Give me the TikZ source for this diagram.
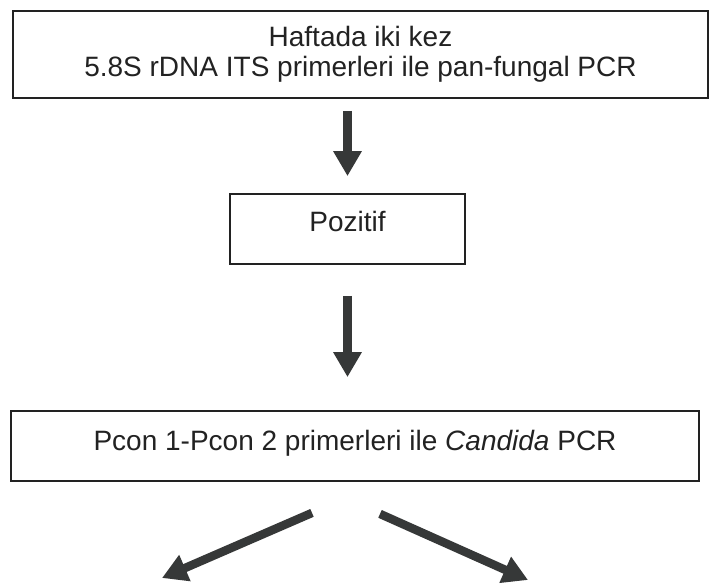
\documentclass[tikz,border=0pt]{standalone}
\usepackage{fontspec}
\setmainfont{Liberation Sans}
\usetikzlibrary{arrows.meta}
\definecolor{ink}{HTML}{222222}
\definecolor{arrowgray}{HTML}{363838}
\begin{document}
\begin{tikzpicture}[x=1pt,y=-1pt,
  box/.style={draw=ink, line width=1.8pt, text=ink, align=center,
    inner sep=0pt, font=\fontsize{28}{30}\selectfont},
  blockarrow/.style={draw=arrowgray, line width=8.5pt, line cap=butt,
    -{Triangle[length=25pt,width=27pt,fill=arrowgray]}}]
  \useasboundingbox (0,0) rectangle (710,585);
  \fill[white] (0,0) rectangle (710,585);

  % boxes of the flow
  \node[box, minimum width=695pt, minimum height=87pt] (top) at (360.5,54.5)
    {Haftada iki kez\\5.8S rDNA ITS primerleri ile pan-fungal PCR};
  \node[box, minimum width=235pt, minimum height=70pt,
    text height=20pt, text depth=14pt] (poz) at (347.5,229)
    {Pozitif};
  \node[box, minimum width=688pt, minimum height=70pt,
    text height=20pt, text depth=12pt] (cand) at (355,446)
    {Pcon 1-Pcon 2 primerleri ile \textit{Candida} PCR};

  % free ends of the two branches
  \coordinate (leftend) at (162,578);
  \coordinate (rightend) at (528,580);

  % connectors
  \draw[blockarrow, shorten <=12pt, shorten >=17pt]
    (top.south -| poz.north) -- (poz.north);
  \draw[blockarrow, shorten <=31pt, shorten >=33pt]
    (poz.south) -- (poz.south |- cand.north);
  \draw[blockarrow] ([shift={(-43,31)}]cand.south) -- (leftend);
  \draw[blockarrow] ([shift={(25,32)}]cand.south) -- (rightend);
\end{tikzpicture}
\end{document}
